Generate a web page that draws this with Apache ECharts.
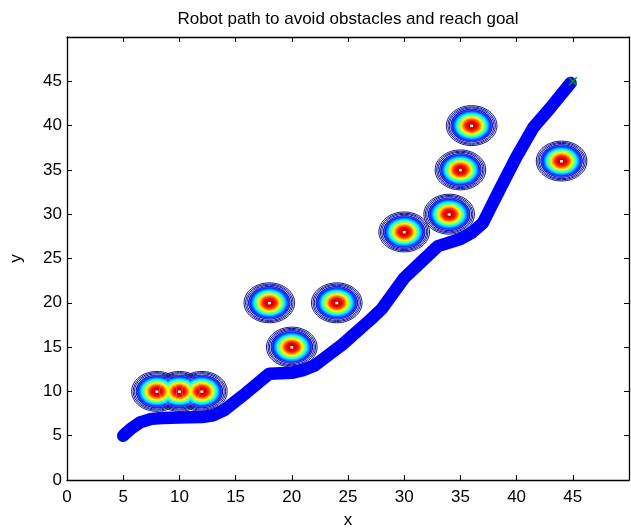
<!DOCTYPE html>
<html><head><meta charset="utf-8">
<script src="https://cdn.jsdelivr.net/npm/echarts@6/dist/echarts.min.js"></script>
<style>html,body{margin:0;padding:0;background:#fff}#c{width:631px;height:530px}</style>
</head><body><div id="c"></div>
<script>
// ---- data ----
const titleText = 'Robot path to avoid obstacles and reach goal';
const xTickValues = [0, 5, 10, 15, 20, 25, 30, 35, 40, 45];
const yTickValues = [0, 5, 10, 15, 20, 25, 30, 35, 40, 45];
const pathX = [5, 5.7, 6.5, 7.5, 8.5, 10, 12, 13, 14, 16, 18, 20, 21, 22, 24.5, 27, 28, 30, 31, 33, 35, 36, 37, 38.5, 40, 41.5, 43, 44.8];
const pathY = [5, 5.8, 6.5, 6.9, 7.0, 7.05, 7.1, 7.3, 7.9, 9.9, 12, 12.1, 12.4, 12.9, 15.3, 18.1, 19.3, 22.8, 24, 26.4, 27.2, 27.9, 29, 32.8, 36.5, 39.8, 42, 44.8];
const obstacleX = [8, 10, 12, 18, 20, 24, 30, 34, 35, 36, 44];
const obstacleY = [10, 10, 10, 20, 15, 20, 28, 30, 35, 40, 36];
const goalX = [45];
const goalY = [45];
const obstacleRadius = 2.25;

// ---- style helpers ----
const FONT = '"Liberation Sans", Arial, Helvetica, sans-serif';
function clamp(v){ return Math.max(0, Math.min(1, v)); }
function jet(v){
  const r = clamp(1.5 - Math.abs(4*v - 3));
  const g = clamp(1.5 - Math.abs(4*v - 2));
  const b = clamp(1.5 - Math.abs(4*v - 1));
  return 'rgb(' + Math.round(r*255) + ',' + Math.round(g*255) + ',' + Math.round(b*255) + ')';
}
const profile = [[0,1],[0.12,0.93],[0.28,0.83],[0.43,0.63],[0.6,0.38],[0.76,0.16],[0.84,0.1]];
function profileValue(t){
  for (let i = 1; i < profile.length; i++) {
    if (t <= profile[i][0]) {
      const a = profile[i-1], b = profile[i];
      return a[1] + (b[1]-a[1]) * (t - a[0]) / (b[0] - a[0]);
    }
  }
  return profile[profile.length-1][1];
}
// contour layers, outer to inner
const layers = [];
[1.0, 0.94, 0.885].forEach(t => layers.push({t: t, ring: true}));
for (let t = 0.84; t > 0.015; t -= 0.02) layers.push({t: t, ring: false});
layers.push({t: 0.79, wring: true});
layers.push({t: 0, dot: true});

const obstacleData = [];
layers.forEach((L, li) => {
  obstacleX.forEach((x, i) => obstacleData.push([x, obstacleY[i], li]));
});

const chart = echarts.init(document.getElementById('c'), null, {renderer: 'canvas'});

function axisCommon(pos, showLabel){
  return {
    type: 'value', min: 0, max: 50, interval: 5, position: pos,
    axisLine: {show: true, onZero: false, lineStyle: {color: '#000', width: 1.3}},
    axisTick: {show: true, inside: true, length: 5, lineStyle: {color: '#000', width: 1}},
    axisLabel: {show: showLabel, showMaxLabel: false, color: '#000', fontSize: 17, fontFamily: FONT,
      formatter: v => String(v)},
    splitLine: {show: false}
  };
}
const xa0 = axisCommon('bottom', true);
Object.assign(xa0, {name: 'x', nameLocation: 'middle', nameGap: 32,
  nameTextStyle: {color: '#000', fontSize: 17, fontFamily: FONT}});
xa0.axisLabel.margin = 9;
const ya0 = axisCommon('left', true);
Object.assign(ya0, {name: 'y', nameLocation: 'middle', nameGap: 42,
  nameTextStyle: {color: '#000', fontSize: 17, fontFamily: FONT}});
ya0.axisLabel.margin = 5;

chart.setOption({
  animation: false,
  backgroundColor: '#fff',
  graphic: [{type: 'text', x: 348, y: 19, style: {text: titleText, font: '17px ' + FONT, fill: '#000',
    textAlign: 'center', textVerticalAlign: 'middle'}}],
  grid: {left: 67, right: 2, top: 37, bottom: 50, containLabel: false, outerBoundsMode: 'none'},
  xAxis: [xa0, axisCommon('top', false)],
  yAxis: [ya0, axisCommon('right', false)],
  series: [
    {
      type: 'custom', xAxisIndex: 0, yAxisIndex: 0, z: 2, clip: true,
      data: obstacleData,
      renderItem: function(params, api){
        const c = api.coord([api.value(0), api.value(1)]);
        const L = layers[api.value(2)];
        if (L.dot) {
          return {type: 'rect', shape: {x: c[0]-1.5, y: c[1]-1, width: 3, height: 2.5},
            style: {fill: '#f0f0f0', stroke: null}};
        }
        const rx = api.size([obstacleRadius * L.t, 0])[0];
        const ry = api.size([0, obstacleRadius * L.t])[1];
        if (L.ring) {
          return {type: 'ellipse', shape: {cx: c[0], cy: c[1], rx: rx, ry: ry},
            style: {fill: null, stroke: '#10108a', lineWidth: 1}};
        }
        if (L.wring) {
          return {type: 'ellipse', shape: {cx: c[0], cy: c[1], rx: rx, ry: ry},
            style: {fill: null, stroke: 'rgba(255,255,255,0.45)', lineWidth: 0.6}};
        }
        return {type: 'ellipse', shape: {cx: c[0], cy: c[1], rx: rx, ry: ry},
          style: {fill: jet(profileValue(L.t)), stroke: null}};
      }
    },
    {
      type: 'line', xAxisIndex: 0, yAxisIndex: 0, z: 5,
      data: pathX.map((x, i) => [x, pathY[i]]),
      showSymbol: false, smooth: false,
      lineStyle: {color: '#0000ff', width: 12.5, cap: 'round', join: 'round'}
    },
    {
      type: 'custom', xAxisIndex: 0, yAxisIndex: 0, z: 6,
      data: goalX.map((x, i) => [x, goalY[i]]),
      renderItem: function(params, api){
        const c = api.coord([api.value(0), api.value(1)]);
        const s = 4;
        return {type: 'group', children: [
          {type: 'line', shape: {x1: c[0]-s, y1: c[1]-s, x2: c[0]+s, y2: c[1]+s}, style: {stroke: '#00a000', lineWidth: 1.5}},
          {type: 'line', shape: {x1: c[0]-s, y1: c[1]+s, x2: c[0]+s, y2: c[1]-s}, style: {stroke: '#00a000', lineWidth: 1.5}}
        ]};
      }
    }
  ]
});
</script>
</body></html>
